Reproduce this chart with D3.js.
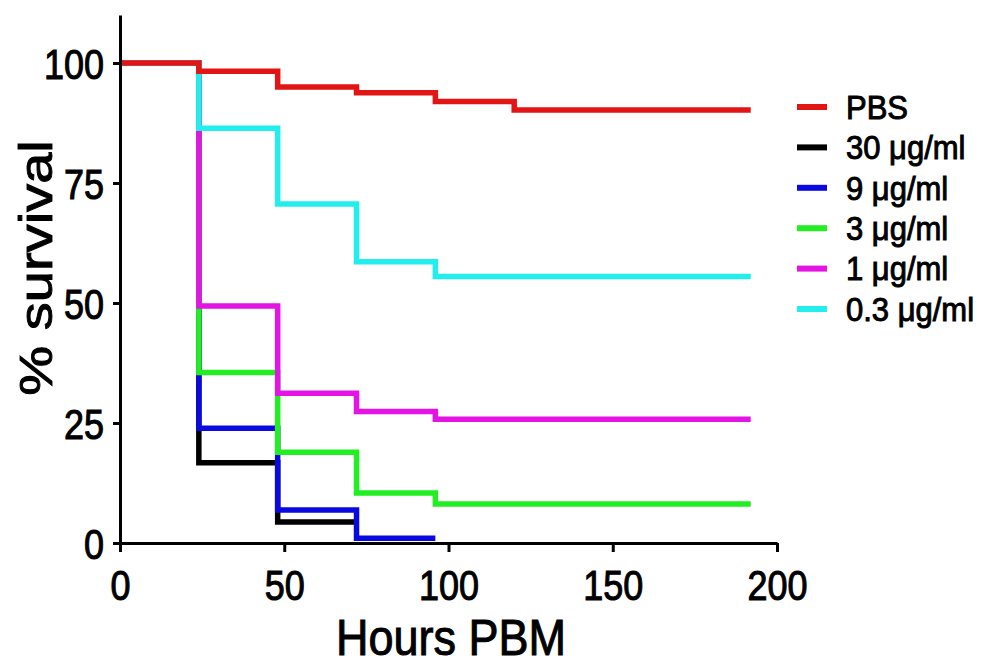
<!DOCTYPE html>
<html>
<head>
<meta charset="utf-8">
<script src="https://cdnjs.cloudflare.com/ajax/libs/d3/7.8.5/d3.min.js"></script>
<style>
    body { margin: 0; background: #fff; }
    text { font-family: "Liberation Sans", Arial, sans-serif; fill: #000; stroke: #000; stroke-width: 0.9px; }
</style>
</head>
<body>
<div id="chart"></div>
<script>
// survival data (hours post blood meal)
//---------------------------------------------------------------------------
var hours = [0, 24, 48, 72, 96, 120];

var pbs      = [100, 98.3, 95.0, 93.8, 92.0, 90.2];
var ug30     = [100, 16.7, 4.4];
var ug9      = [100, 23.9, 6.9, 1.0];
var ug3      = [100, 35.5, 18.9, 10.4, 8.1];
var ug1      = [100, 49.4, 31.2, 27.4, 25.8];
var ug03     = [100, 86.4, 70.6, 58.6, 55.5];

var groupNames = ["PBS", "30 \u03bcg/ml", "9 \u03bcg/ml", "3 \u03bcg/ml", "1 \u03bcg/ml", "0.3 \u03bcg/ml"];
var groupColors = ["#e21414", "#000000", "#0a0ae0", "#22ee22", "#e414e4", "#22eeee"];
var endHours = [192, 72, 96, 192, 192, 192];

var xTicks = [0, 50, 100, 150, 200];
var yTicks = [0, 25, 50, 75, 100];

// setup
//---------------------------------------------------------------------------
var width = 983, height = 666;

var svg = d3.select("#chart").append("svg")
    .attr("width", width)
    .attr("height", height);

var x = d3.scaleLinear().domain([0, 200]).range([120, 777]);
var y = d3.scaleLinear().domain([0, 110]).range([543, 15]);

var series = [pbs, ug30, ug9, ug3, ug1, ug03].map(function(v, i) {
    var pts = v.map(function(d, j) { return [hours[j], d]; });
    pts.push([endHours[i], v[v.length - 1]]);
    return { name: groupNames[i], color: groupColors[i], points: pts };
});

var line = d3.line()
    .x(function(d) { return x(d[0]); })
    .y(function(d) { return y(d[1]); })
    .curve(d3.curveStepAfter);

// curves, PBS last so it sits on top
//---------------------------------------------------------------------------
var order = [1, 2, 3, 4, 5, 0];
svg.append("g").selectAll("path")
    .data(order.map(function(i) { return series[i]; }))
    .enter().append("path")
    .attr("d", function(d) { return line(d.points); })
    .attr("fill", "none")
    .attr("stroke", function(d) { return d.color; })
    .attr("stroke-width", 5.5)
    .attr("stroke-linejoin", "miter");

// axes
//---------------------------------------------------------------------------
var xAxis = svg.append("g")
    .attr("transform", "translate(0," + y(0) + ")")
    .call(d3.axisBottom(x).tickValues(xTicks).tickSize(9).tickSizeOuter(0));

xAxis.selectAll("text")
    .attr("y", 49).attr("dy", 0)
    .attr("font-size", 36)
    .attr("transform", "scale(1,1.17)");

var yAxis = svg.append("g")
    .attr("transform", "translate(" + x(0) + ",0)")
    .call(d3.axisLeft(y).tickValues(yTicks).tickSize(7).tickSizeOuter(0));

yAxis.selectAll("text")
    .attr("x", -16)
    .attr("dy", "0.36em")
    .attr("font-size", 36)
    .attr("transform", "scale(1,1.17)");

[xAxis, yAxis].forEach(function(a) {
    a.attr("font-family", null);
    a.selectAll("path, line").attr("stroke", "#000").attr("stroke-width", 3);
});

// axis titles
svg.append("text")
    .attr("transform", "translate(451,655) scale(1,1.1)")
    .attr("text-anchor", "middle")
    .attr("font-size", 45)
    .text("Hours PBM");

svg.append("text")
    .attr("transform", "translate(52,268) rotate(-90) scale(1.22,1)")
    .attr("text-anchor", "middle")
    .attr("font-size", 46)
    .text("% survival");

// legend
//---------------------------------------------------------------------------
var legend = svg.append("g").selectAll("g")
    .data(series)
    .enter().append("g")
    .attr("transform", function(d, i) { return "translate(797," + (107 + i * 40.4) + ")"; });

legend.append("line")
    .attr("x1", 0).attr("x2", 30)
    .attr("stroke", function(d) { return d.color; })
    .attr("stroke-width", 6);

legend.append("text")
    .attr("x", 49)
    .attr("dy", "0.36em")
    .attr("font-size", 31)
    .attr("transform", "scale(1,1.05)")
    .text(function(d) { return d.name; });
</script>
</body>
</html>
